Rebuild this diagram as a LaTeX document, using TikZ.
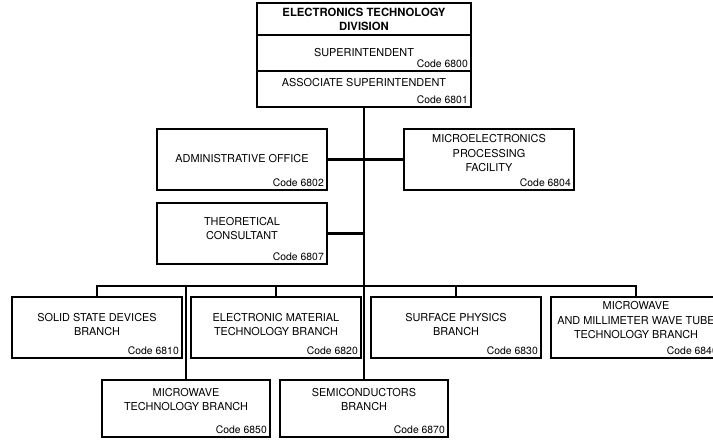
\documentclass[tikz,border=0pt]{standalone}
\usepackage{fontspec}
\setmainfont{TeX Gyre Heros}
\usetikzlibrary{positioning}
\tikzset{
  hdr/.style={draw, line width=1.5pt, outer sep=0pt, minimum width=214pt, minimum height=36pt, inner sep=0pt},
  unit/.style={draw, line width=1.5pt, outer sep=0pt, minimum width=170pt, minimum height=61pt, inner sep=0pt},
  low/.style={unit, minimum width=168pt, minimum height=57pt},
  txt/.style={font=\fontsize{10.9}{14.5}\selectfont, align=center, inner sep=1pt},
  code/.style={font=\fontsize{10.4}{12}\selectfont, inner sep=3pt, anchor=south east},
  link/.style={line width=2.2pt},
}
\begin{document}
\begin{tikzpicture}[x=1pt, y=1pt]
\clip (0,0) rectangle (713,-441);
% division heading
\node[hdr, minimum height=32pt, align=center, font=\fontsize{11.3}{14}\selectfont\bfseries] (etd) at (364,-19) {ELECTRONICS TECHNOLOGY\\DIVISION};
\node[hdr, below=0pt of etd] (sup) {};
\node[txt] (tsup) at (sup.center) {SUPERINTENDENT};
\node[code] (c6800) at (sup.south east) {Code 6800};
\node[hdr, below=0pt of sup] (asc) {};
\node[txt] (tasc) at ([yshift=6pt]asc.center) {ASSOCIATE SUPERINTENDENT};
\node[code] (c6801) at (asc.south east) {Code 6801};
% staff offices
\node[unit, below left=22pt and 37pt of asc.south] (adm) {};
\node[txt] (tadm) at ([yshift=1pt]adm.center) {ADMINISTRATIVE OFFICE};
\node[code] (c6802) at (adm.south east) {Code 6802};
\node[unit, below right=22pt and 40pt of asc.south] (mpf) {};
\node[txt] (tmpf) at ([yshift=6pt]mpf.center) {MICROELECTRONICS\\PROCESSING\\FACILITY};
\node[code] (c6804) at (mpf.south east) {Code 6804};
\node[unit, below=13pt of adm.south west, anchor=north west] (thc) {};
\node[txt] (tthc) at ([yshift=5pt]thc.center) {THEORETICAL\\CONSULTANT};
\node[code] (c6807) at (thc.south east) {Code 6807};
% branches
\node[low, below=273pt of asc.south] (sem) {};
\node[txt] (tsem) at ([yshift=9pt]sem.center) {SEMICONDUCTORS\\BRANCH};
\node[code] (c6870) at (sem.south east) {Code 6870};
\node[low, left=10pt of sem] (mwt) {};
\node[txt] (tmwt) at ([yshift=9pt]mwt.center) {MICROWAVE\\TECHNOLOGY BRANCH};
\node[code] (c6850) at (mwt.south east) {Code 6850};
\node[unit, above left=22pt and 3pt of sem.north] (emt) {};
\node[txt] (temt) at ([yshift=3pt]emt.center) {ELECTRONIC MATERIAL\\TECHNOLOGY BRANCH};
\node[code] (c6820) at (emt.south east) {Code 6820};
\node[unit, left=9pt of emt] (ssd) {};
\node[txt] (tssd) at ([yshift=3pt]ssd.center) {SOLID STATE DEVICES\\BRANCH};
\node[code] (c6810) at (ssd.south east) {Code 6810};
\node[unit, right=10pt of emt] (sph) {};
\node[txt] (tsph) at ([yshift=3pt]sph.center) {SURFACE PHYSICS\\BRANCH};
\node[code] (c6830) at (sph.south east) {Code 6830};
\node[unit, right=10pt of sph] (mmw) {};
\node[txt] (tmmw) at ([yshift=7pt]mmw.center) {MICROWAVE\\AND MILLIMETER WAVE TUBE\\TECHNOLOGY BRANCH};
\node[code] (c6840) at (mmw.south east) {Code 6840};
% lines
\draw[link] (asc.south) -- (sem.north);
\draw[link] (adm.east) -- (mpf.west);
\draw[link] (thc.east) -- (thc.east -| asc.south);
\draw[link] (ssd.north) -- ++(0,11pt) coordinate (bus) -| (mmw.north);
\draw[link] (emt.north) -- (emt.north |- bus);
\draw[link] (sph.north) -- (sph.north |- bus);
\draw[link] (mwt.north) -- (mwt.north |- bus);
\end{tikzpicture}
\end{document}
